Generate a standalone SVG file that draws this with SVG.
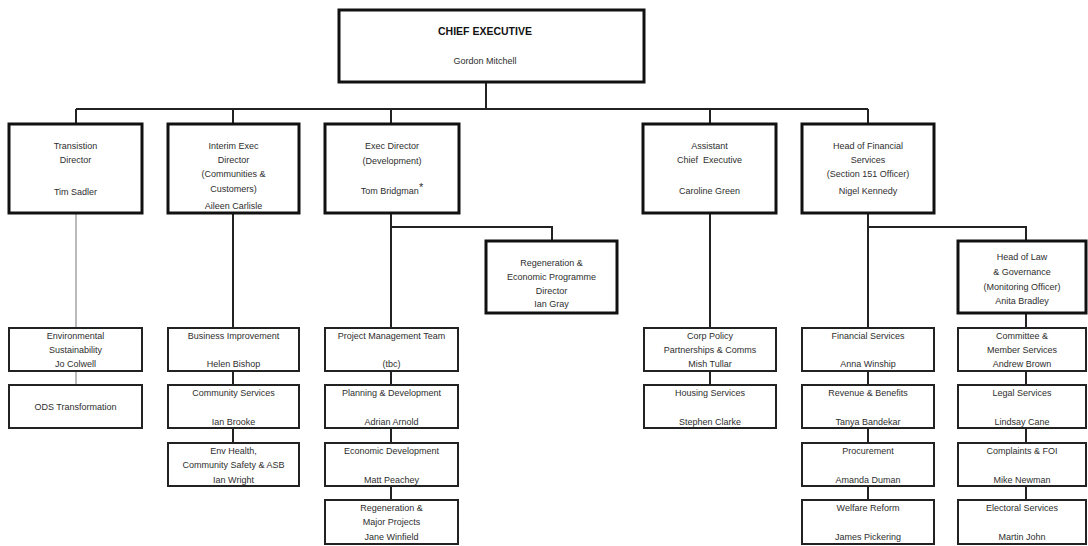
<svg xmlns="http://www.w3.org/2000/svg" width="1088" height="546" viewBox="0 0 1088 546">
<style>
text{font-family:"Liberation Sans",Arial,sans-serif;font-size:9px;fill:#2e2e2e;text-anchor:middle;dominant-baseline:central}
.b{font-weight:bold;font-size:10.5px;fill:#111}
.top{fill:#fff;stroke:#111;stroke-width:3}
.sub{fill:#fff;stroke:#222;stroke-width:2}
.c{stroke:#222;stroke-width:2;fill:none}
.thin{stroke:#777;stroke-width:1;fill:none}
</style>
<rect width="1088" height="546" fill="#fff"/>
<g id="connectors">
<path class="c" d="M486 82V109M76 109H868M76 109V124M233 109V124M391 109V124M710 109V124M868 109V124"/>
<path class="thin" d="M76 213V328M76 371V385"/>
<path class="c" d="M233 213V328M233 371V385M233 428V443"/>
<path class="c" d="M391 213V328M391 227H552V241M391 371V385M391 428V443M391 486V500"/>
<path class="c" d="M710 213V328M710 371V385"/>
<path class="c" d="M868 213V328M868 227H1026V241M868 371V385M868 428V443M868 486V500"/>
<path class="c" d="M1026 313V328M1026 371V385M1026 428V443M1026 486V500"/>
</g>
<g id="ceo"><rect class="top" x="339" y="10" width="305" height="72"/><text class="b" x="485" y="31">CHIEF EXECUTIVE</text><text x="485" y="61">Gordon Mitchell</text></g>
<g id="transition"><rect class="top" x="9" y="124" width="133" height="89"/><text x="75.5" y="146">Transistion</text><text x="75.5" y="160">Director</text><text x="75.5" y="192">Tim Sadler</text></g>
<g id="interim"><rect class="top" x="168" y="124" width="131" height="89"/><text x="233.5" y="146">Interim Exec</text><text x="233.5" y="160">Director</text><text x="233.5" y="174">(Communities &amp;</text><text x="233.5" y="189">Customers)</text><text x="233.5" y="206">Aileen Carlisle</text></g>
<g id="execdir"><rect class="top" x="325" y="124" width="134" height="89"/><text x="392" y="146">Exec Director</text><text x="392" y="161">(Development)</text><text x="392" y="191">Tom Bridgman<tspan dy="-4" font-size="11px">*</tspan></text></g>
<g id="assistant"><rect class="top" x="643" y="124" width="133" height="89"/><text x="709.5" y="146">Assistant</text><text x="709.5" y="160" xml:space="preserve">Chief  Executive</text><text x="709.5" y="191">Caroline Green</text></g>
<g id="headfin"><rect class="top" x="802" y="124" width="132" height="89"/><text x="868" y="146">Head of Financial</text><text x="868" y="160">Services</text><text x="868" y="174">(Section 151 Officer)</text><text x="868" y="191">Nigel Kennedy</text></g>
<g id="regen"><rect class="top" x="486" y="241" width="131" height="72"/><text x="551.5" y="263">Regeneration &amp;</text><text x="551.5" y="277">Economic Programme</text><text x="551.5" y="291">Director</text><text x="551.5" y="304">Ian Gray</text></g>
<g id="headlaw"><rect class="top" x="958" y="241" width="128" height="72"/><text x="1022" y="257">Head of Law</text><text x="1022" y="272">&amp; Governance</text><text x="1022" y="287">(Monitoring Officer)</text><text x="1022" y="301">Anita Bradley</text></g>
<g id="envsust"><rect class="sub" x="9" y="328" width="133" height="43"/><text x="75.5" y="336">Environmental</text><text x="75.5" y="350">Sustainability</text><text x="75.5" y="364">Jo Colwell</text></g>
<g id="ods"><rect class="sub" x="9" y="385" width="133" height="43"/><text x="75.5" y="407">ODS Transformation</text></g>
<g id="busimp"><rect class="sub" x="168" y="328" width="131" height="43"/><text x="233.5" y="336">Business Improvement</text><text x="233.5" y="364">Helen Bishop</text></g>
<g id="commserv"><rect class="sub" x="168" y="385" width="131" height="43"/><text x="233.5" y="393">Community Services</text><text x="233.5" y="422">Ian Brooke</text></g>
<g id="envhealth"><rect class="sub" x="168" y="443" width="131" height="43"/><text x="233.5" y="451">Env Health,</text><text x="233.5" y="465">Community Safety &amp; ASB</text><text x="233.5" y="480">Ian Wright</text></g>
<g id="pmt"><rect class="sub" x="325" y="328" width="133" height="43"/><text x="391.5" y="336">Project Management Team</text><text x="391.5" y="364">(tbc)</text></g>
<g id="planning"><rect class="sub" x="325" y="385" width="133" height="43"/><text x="391.5" y="393">Planning &amp; Development</text><text x="391.5" y="422">Adrian Arnold</text></g>
<g id="econdev"><rect class="sub" x="325" y="443" width="133" height="43"/><text x="391.5" y="451">Economic Development</text><text x="391.5" y="480">Matt Peachey</text></g>
<g id="regenmajor"><rect class="sub" x="325" y="500" width="133" height="44"/><text x="391.5" y="508">Regeneration &amp;</text><text x="391.5" y="522">Major Projects</text><text x="391.5" y="537">Jane Winfield</text></g>
<g id="corppolicy"><rect class="sub" x="644" y="328" width="132" height="43"/><text x="710" y="336">Corp Policy</text><text x="710" y="350">Partnerships &amp; Comms</text><text x="710" y="364">Mish Tullar</text></g>
<g id="housing"><rect class="sub" x="644" y="385" width="132" height="43"/><text x="710" y="393">Housing Services</text><text x="710" y="422">Stephen Clarke</text></g>
<g id="finserv"><rect class="sub" x="802" y="328" width="132" height="43"/><text x="868" y="336">Financial Services</text><text x="868" y="364">Anna Winship</text></g>
<g id="revben"><rect class="sub" x="802" y="385" width="132" height="43"/><text x="868" y="393">Revenue &amp; Benefits</text><text x="868" y="422">Tanya Bandekar</text></g>
<g id="procure"><rect class="sub" x="802" y="443" width="132" height="43"/><text x="868" y="451">Procurement</text><text x="868" y="480">Amanda Duman</text></g>
<g id="welfare"><rect class="sub" x="802" y="500" width="132" height="44"/><text x="868" y="508">Welfare Reform</text><text x="868" y="537">James Pickering</text></g>
<g id="committee"><rect class="sub" x="958" y="328" width="128" height="43"/><text x="1022" y="336">Committee &amp;</text><text x="1022" y="350">Member Services</text><text x="1022" y="364">Andrew Brown</text></g>
<g id="legal"><rect class="sub" x="958" y="385" width="128" height="43"/><text x="1022" y="393">Legal Services</text><text x="1022" y="422">Lindsay Cane</text></g>
<g id="complaints"><rect class="sub" x="958" y="443" width="128" height="43"/><text x="1022" y="451">Complaints &amp; FOI</text><text x="1022" y="480">Mike Newman</text></g>
<g id="electoral"><rect class="sub" x="958" y="500" width="128" height="44"/><text x="1022" y="508">Electoral Services</text><text x="1022" y="537">Martin John</text></g>
</svg>
